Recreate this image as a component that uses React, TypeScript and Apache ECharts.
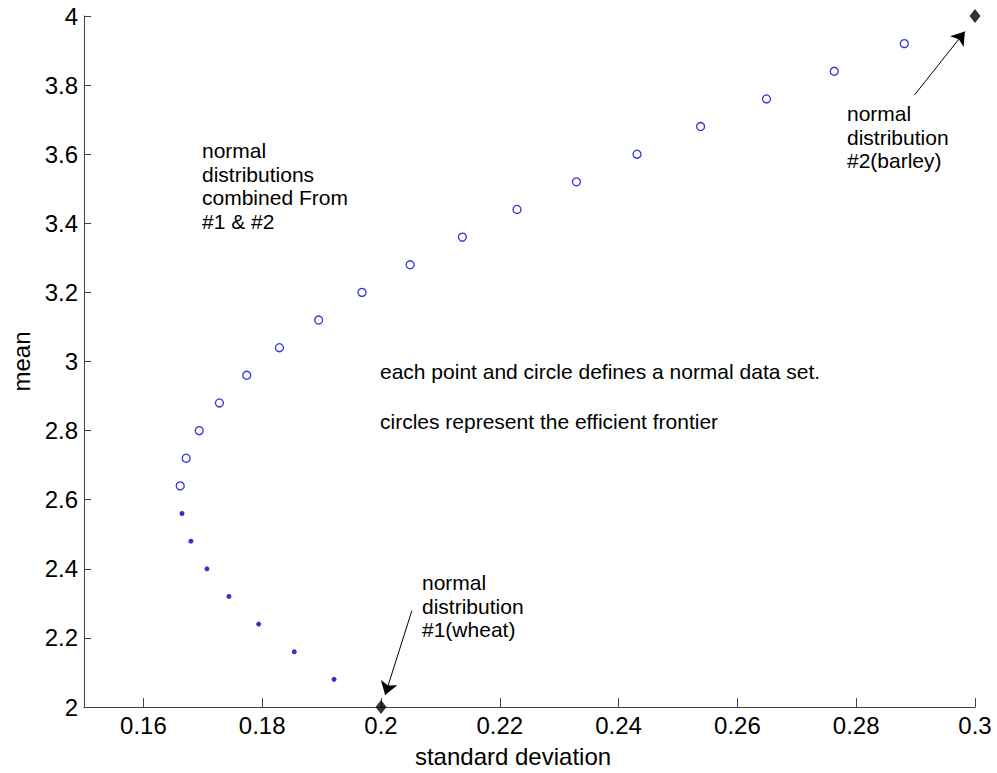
import React, { useEffect, useRef } from "react";
import * as echarts from "echarts";

// Efficient frontier (circles)
const frontierSd = [0.1662, 0.1672, 0.1694, 0.1728, 0.1774, 0.1829, 0.1895, 0.1968, 0.2049, 0.2137, 0.2229, 0.2329, 0.2431, 0.2538, 0.2649, 0.2763, 0.2881];
const frontierMean = [2.64, 2.72, 2.8, 2.88, 2.96, 3.04, 3.12, 3.2, 3.28, 3.36, 3.44, 3.52, 3.6, 3.68, 3.76, 3.84, 3.92];
// Lower branch (points)
const lowerSd = [0.1921, 0.1854, 0.1794, 0.1744, 0.1707, 0.168, 0.1665];
const lowerMean = [2.08, 2.16, 2.24, 2.32, 2.4, 2.48, 2.56];
// Pure distributions (diamonds)
const pureSd = [0.2, 0.3];
const pureMean = [2, 4];
// Arrow start/end points (data coords)
const arrowFrom = [[0.2052, 2.279], [0.2898, 3.771]];
const arrowTo = [[0.2007, 2.035], [0.2983, 3.955]];
// Tick labels
const xTicks = [0.16, 0.18, 0.2, 0.22, 0.24, 0.26, 0.28, 0.3];

const FONT = "'Liberation Sans', Arial, sans-serif";

export default function App() {
  const ref = useRef<HTMLDivElement>(null);
  useEffect(() => {
    document.body.style.margin = "0";
    const chart = echarts.init(ref.current!, null, { renderer: "svg" });
    const axisLine = { show: true, lineStyle: { color: "#404040", width: 1 } };
    const annot = (x: number, y: number, text: string) => ({
      type: "text",
      x,
      y,
      style: {
        text,
        font: `21px ${FONT}`,
        fill: "#000",
        lineHeight: 23.5,
        verticalAlign: "top",
        align: "left",
      },
    });
    chart.setOption({
      animation: false,
      backgroundColor: "#fff",
      textStyle: { fontFamily: FONT },
      grid: { left: 84, right: 22, top: 16, bottom: 59, containLabel: false },
      xAxis: {
        type: "value",
        min: 0.15,
        max: 0.3,
        name: "standard deviation",
        nameLocation: "middle",
        nameGap: 37,
        nameTextStyle: { fontSize: 24, color: "#000", fontFamily: FONT, padding: [0, 33, 0, 0] },
        axisLine,
        axisTick: { show: true, inside: true, length: 9, lineStyle: { color: "#404040" }, customValues: xTicks },
        axisLabel: { fontSize: 24, color: "#000", margin: 6, fontFamily: FONT, customValues: xTicks },
        splitLine: { show: false },
      },
      yAxis: {
        type: "value",
        min: 2,
        max: 4,
        interval: 0.2,
        name: "mean",
        nameLocation: "middle",
        nameGap: 50,
        nameTextStyle: { fontSize: 24, color: "#000", fontFamily: FONT },
        axisLine,
        axisTick: { show: true, inside: true, length: 7, lineStyle: { color: "#404040" } },
        axisLabel: { fontSize: 24, color: "#000", margin: 6, fontFamily: FONT },
        splitLine: { show: false },
      },
      series: [
        {
          type: "scatter",
          data: frontierSd.map((s, i) => [s, frontierMean[i]]),
          symbol: "circle",
          symbolSize: 8,
          itemStyle: { color: "transparent", borderColor: "#0000cc", borderWidth: 1.3 },
          silent: true,
        },
        {
          type: "scatter",
          data: lowerSd.map((s, i) => [s, lowerMean[i]]),
          symbol: "circle",
          symbolSize: 5,
          itemStyle: { color: "#0000bb" },
          silent: true,
        },
        {
          type: "scatter",
          data: pureSd.map((s, i) => [s, pureMean[i]]),
          symbol: "diamond",
          symbolSize: [11, 14],
          itemStyle: { color: "#000" },
          silent: true,
          z: 5,
        },
        {
          type: "lines",
          coordinateSystem: "cartesian2d",
          silent: true,
          symbol: ["none", "arrow"],
          symbolSize: 13,
          lineStyle: { color: "#000", width: 1, opacity: 1 },
          data: arrowFrom.map((f, i) => ({ coords: [f, arrowTo[i]] })),
        },
      ],
      graphic: [
        annot(202, 139, "normal\ndistributions\ncombined From\n#1 & #2"),
        annot(422, 571, "normal\ndistribution\n#1(wheat)"),
        annot(847, 102, "normal\ndistribution\n#2(barley)"),
        annot(380, 360, "each point and circle defines a normal data set."),
        annot(380, 410, "circles represent the efficient frontier"),
      ],
    });
    return () => chart.dispose();
  }, []);
  return <div ref={ref} style={{ position: "absolute", left: 0, top: 0, width: 997, height: 773 }} />;
}
